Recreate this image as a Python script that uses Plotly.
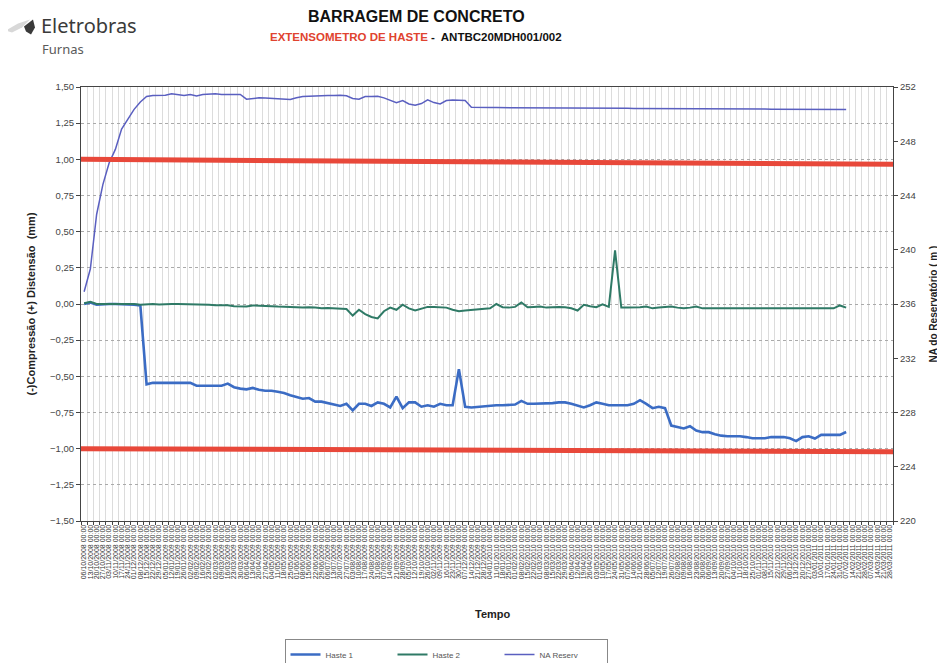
import plotly.graph_objects as go
import pandas as pd

# ---------------- data ----------------
dates = list(pd.date_range("2008-10-06", periods=130, freq="7D").strftime("%d/%m/%Y %H:%M"))

haste1 = [0.0, 0.01, -0.005, 0.0, 0.0, 0.0, 0.0, 0.0, -0.005, -0.01,
          -0.555, -0.545, -0.545, -0.545, -0.545, -0.545, -0.545, -0.545, -0.565, -0.565,
          -0.565, -0.565, -0.565, -0.55, -0.575, -0.585, -0.59, -0.58, -0.593, -0.6,
          -0.6, -0.607, -0.615, -0.63, -0.645, -0.655, -0.65, -0.675, -0.675, -0.685,
          -0.695, -0.705, -0.69, -0.735, -0.69, -0.69, -0.705, -0.68, -0.69, -0.715,
          -0.64, -0.72, -0.68, -0.68, -0.71, -0.70, -0.71, -0.69, -0.70, -0.70,
          -0.45, -0.71, -0.715, -0.71, -0.705, -0.705, -0.70, -0.70, -0.695, -0.695,
          -0.67, -0.69, -0.69, -0.69, -0.69, -0.685, -0.68, -0.68, -0.69, -0.70,
          -0.715, -0.70, -0.68, -0.69, -0.70, -0.70, -0.70, -0.70, -0.69, -0.665,
          -0.69, -0.72, -0.71, -0.72, -0.84, -0.85, -0.86, -0.845, -0.875, -0.886,
          -0.886, -0.90, -0.91, -0.914, -0.914, -0.914, -0.92, -0.928, -0.928, -0.928,
          -0.92, -0.92, -0.92, -0.928, -0.948, -0.92, -0.914, -0.93, -0.905, -0.905,
          -0.905, -0.905, -0.885]

haste2 = [0.005, 0.015, 0.0, 0.0, 0.005, 0.005, 0.005, 0.005, 0.0, -0.005,
          0.0, 0.0, -0.003, 0.0, 0.0, 0.0, 0.0, -0.003, -0.005, -0.005,
          -0.005, -0.008, -0.008, -0.008, -0.015, -0.015, -0.018, -0.01, -0.01, -0.012,
          -0.015, -0.018, -0.018, -0.02, -0.022, -0.025, -0.022, -0.025, -0.03, -0.028,
          -0.03, -0.03, -0.035, -0.08, -0.04, -0.07, -0.09, -0.10, -0.05, -0.025,
          -0.04, -0.005, -0.03, -0.045, -0.03, -0.02, -0.02, -0.022, -0.025, -0.04,
          -0.05, -0.045, -0.04, -0.04, -0.035, -0.03, 0.0, -0.022, -0.025, -0.02,
          0.01, -0.022, -0.02, -0.018, -0.025, -0.02, -0.02, -0.022, -0.03, -0.045,
          -0.005, -0.015, -0.022, -0.003, -0.02, 0.37, -0.025, -0.025, -0.025, -0.022,
          -0.018, -0.03, -0.025, -0.022, -0.018, -0.025, -0.03, -0.025, -0.018, -0.03,
          -0.03, -0.03, -0.03, -0.03, -0.03, -0.032, -0.03, -0.03, -0.03, -0.03,
          -0.032, -0.03, -0.03, -0.03, -0.03, -0.03, -0.03, -0.03, -0.03, -0.03,
          -0.03, -0.01, -0.025]

na_reserv = [236.9, 238.6, 242.6, 244.8, 246.4, 247.4, 248.9, 249.6, 250.35, 250.9,
             251.3, 251.37, 251.37, 251.4, 251.5, 251.45, 251.37, 251.45, 251.33, 251.45,
             251.5, 251.5, 251.45, 251.45, 251.45, 251.45, 251.1, 251.15, 251.2, 251.18,
             251.15, 251.12, 251.1, 251.08, 251.2, 251.3, 251.32, 251.35, 251.35, 251.37,
             251.37, 251.4, 251.35, 251.15, 251.1, 251.3, 251.3, 251.32, 251.2, 251.0,
             250.85, 251.0, 250.75, 250.65, 250.78, 251.05, 250.85, 250.75, 251.0, 251.05,
             251.05, 251.0, 250.5, 250.48, 250.48, 250.48, 250.48, 250.48, 250.48, 250.48,
             250.47, 250.47, 250.47, 250.47, 250.46, 250.46, 250.46, 250.46, 250.45, 250.45,
             250.45, 250.45, 250.44, 250.44, 250.44, 250.43, 250.43, 250.43, 250.42, 250.42,
             250.42, 250.41, 250.41, 250.41, 250.40, 250.40, 250.40, 250.40, 250.39, 250.39,
             250.39, 250.39, 250.38, 250.38, 250.38, 250.38, 250.37, 250.37, 250.37, 250.37,
             250.36, 250.36, 250.36, 250.36, 250.36, 250.35, 250.35, 250.35, 250.35, 250.35,
             250.35, 250.35, 250.35]

left_ticks = [1.5, 1.25, 1.0, 0.75, 0.5, 0.25, 0.0, -0.25, -0.5, -0.75, -1.0, -1.25, -1.5]
right_ticks = [220, 224, 228, 232, 236, 240, 244, 248, 252]
limits = [1.0, -1.0]

# ---------------- figure ----------------
FONT = "Liberation Sans, Arial, sans-serif"
fig = go.Figure()

fig.add_trace(go.Scatter(x=dates[:len(haste1)], y=haste1, name="Haste 1", mode="lines",
                         line=dict(color="#3b6cc4", width=2.6)))
fig.add_trace(go.Scatter(x=dates[:len(haste2)], y=haste2, name="Haste 2", mode="lines",
                         line=dict(color="#2f7a66", width=2.0)))
fig.add_trace(go.Scatter(x=dates[:len(na_reserv)], y=na_reserv, name="NA Reserv", mode="lines",
                         line=dict(color="#5a5fc0", width=1.5), yaxis="y2"))

# red alarm limits (scan slightly tilted)
fig.add_shape(type="line", xref="x domain", yref="y", x0=0, x1=1, y0=limits[0], y1=limits[0] - 0.034,
              line=dict(color="#e8483a", width=5), layer="above")
fig.add_shape(type="line", xref="x domain", yref="y", x0=0, x1=1, y0=limits[1], y1=limits[1] - 0.021,
              line=dict(color="#e8483a", width=5), layer="above")

# page body has an 8px offset: size the figure so the plot lands at x 81..893, y 87..521
fig.update_layout(
    width=937, height=655,
    margin=dict(l=73, r=52, t=79, b=142, autoexpand=False),
    paper_bgcolor="white", plot_bgcolor="white",
    separators=",.",
    font=dict(family=FONT, color="#333"),
    showlegend=True,
    legend=dict(orientation="h", x=(446 - 81) / 812, xanchor="center", y=-0.272, yanchor="top",
                font=dict(size=8, color="#555"), bordercolor="#888", borderwidth=1,
                entrywidth=62, itemwidth=30, bgcolor="white"),
    xaxis=dict(type="category", categoryorder="array", categoryarray=dates,
               range=[-0.5, len(dates) - 0.5], tickmode="array", tickvals=dates,
               tickangle=-90, tickfont=dict(size=7, color="#333"), automargin=False,
               showgrid=True, gridcolor="#dcdcdc", gridwidth=1, tickson="boundaries",
               ticks="outside", ticklen=3, tickcolor="#444",
               showline=True, linecolor="#444", linewidth=1, mirror=True, zeroline=False),
    yaxis=dict(range=[-1.5, 1.5], tickmode="array", tickvals=left_ticks, tickformat=".2f",
               tickfont=dict(size=9.5, color="#444"), ticks="outside", ticklen=4, tickcolor="#444",
               showgrid=True, gridcolor="#aaaaaa", griddash="dot", gridwidth=1, automargin=False,
               showline=True, linecolor="#444", linewidth=1, zeroline=False),
    yaxis2=dict(range=[220, 252], overlaying="y", side="right", tickmode="array", tickvals=right_ticks,
                tickfont=dict(size=9.5, color="#444"), ticks="outside", ticklen=4, tickcolor="#444",
                automargin=False,
                showgrid=False, showline=True, linecolor="#444", linewidth=1, zeroline=False),
)

# titles
fig.add_annotation(text="<b>BARRAGEM DE CONCRETO</b>", xref="paper", yref="paper",
                   x=(416 - 81) / 812, y=(521.5 - 17) / 434, showarrow=False,
                   font=dict(size=16, color="#111", family=FONT), xanchor="center", yanchor="middle")
fig.add_annotation(text="<b><span style='color:#e0432f'>EXTENSOMETRO DE HASTE</span> -  ANTBC20MDH001/002</b>",
                   xref="paper", yref="paper", x=(416 - 81) / 812, y=(521.5 - 38) / 434, showarrow=False,
                   font=dict(size=11.5, color="#111", family=FONT), xanchor="center", yanchor="middle")

# logo
fig.add_annotation(text="Eletrobras", xref="paper", yref="paper", x=(39 - 81) / 812, y=(521.5 - 26) / 434,
                   showarrow=False, xanchor="left", yanchor="middle",
                   font=dict(size=20, color="#3a3a3a", family="Noto Sans, DejaVu Sans, sans-serif"))
fig.add_annotation(text="Furnas", xref="paper", yref="paper", x=(40 - 81) / 812, y=(521.5 - 49.5) / 434,
                   showarrow=False, xanchor="left", yanchor="middle",
                   font=dict(size=13, color="#5a5a5a", family="Noto Sans, DejaVu Sans, sans-serif"))

def px(xp, yp):
    return (xp - 81) / 812, (521.5 - yp) / 434

# swoosh (light) and leaf (dark)
pts_sw = [px(6, 31), px(18, 24), px(30, 20), px(22, 28), px(12, 33)]
pts_leaf = [px(24, 27), px(33, 20), px(35, 28), px(31, 35), px(26, 32)]
def path(pts):
    return "M " + " L ".join(f"{a},{b}" for a, b in pts) + " Z"
fig.add_shape(type="path", xref="paper", yref="paper", path=path(pts_sw),
              fillcolor="#d8d8d8", line=dict(width=0))
fig.add_shape(type="path", xref="paper", yref="paper", path=path(pts_leaf),
              fillcolor="#3a3a3a", line=dict(width=0))

# axis titles
fig.add_annotation(text="<b>(-)Compressão (+) Distensão  (mm)</b>", xref="paper", yref="paper",
                   x=(30 - 81) / 812, y=(521.5 - 305) / 434, textangle=-90, showarrow=False,
                   font=dict(size=11, color="#222", family=FONT), xanchor="center", yanchor="middle")
fig.add_annotation(text="<b>NA do Reservatório ( m )</b>", xref="paper", yref="paper",
                   x=(933 - 81) / 812, y=(521.5 - 305) / 434, textangle=-90, showarrow=False,
                   font=dict(size=10, color="#222", family=FONT), xanchor="center", yanchor="middle")
fig.add_annotation(text="<b>Tempo</b>", xref="paper", yref="paper",
                   x=(493 - 81) / 812, y=(521.5 - 614) / 434, showarrow=False,
                   font=dict(size=11, color="#222", family=FONT), xanchor="center", yanchor="middle")

fig.write_html("out.html")
